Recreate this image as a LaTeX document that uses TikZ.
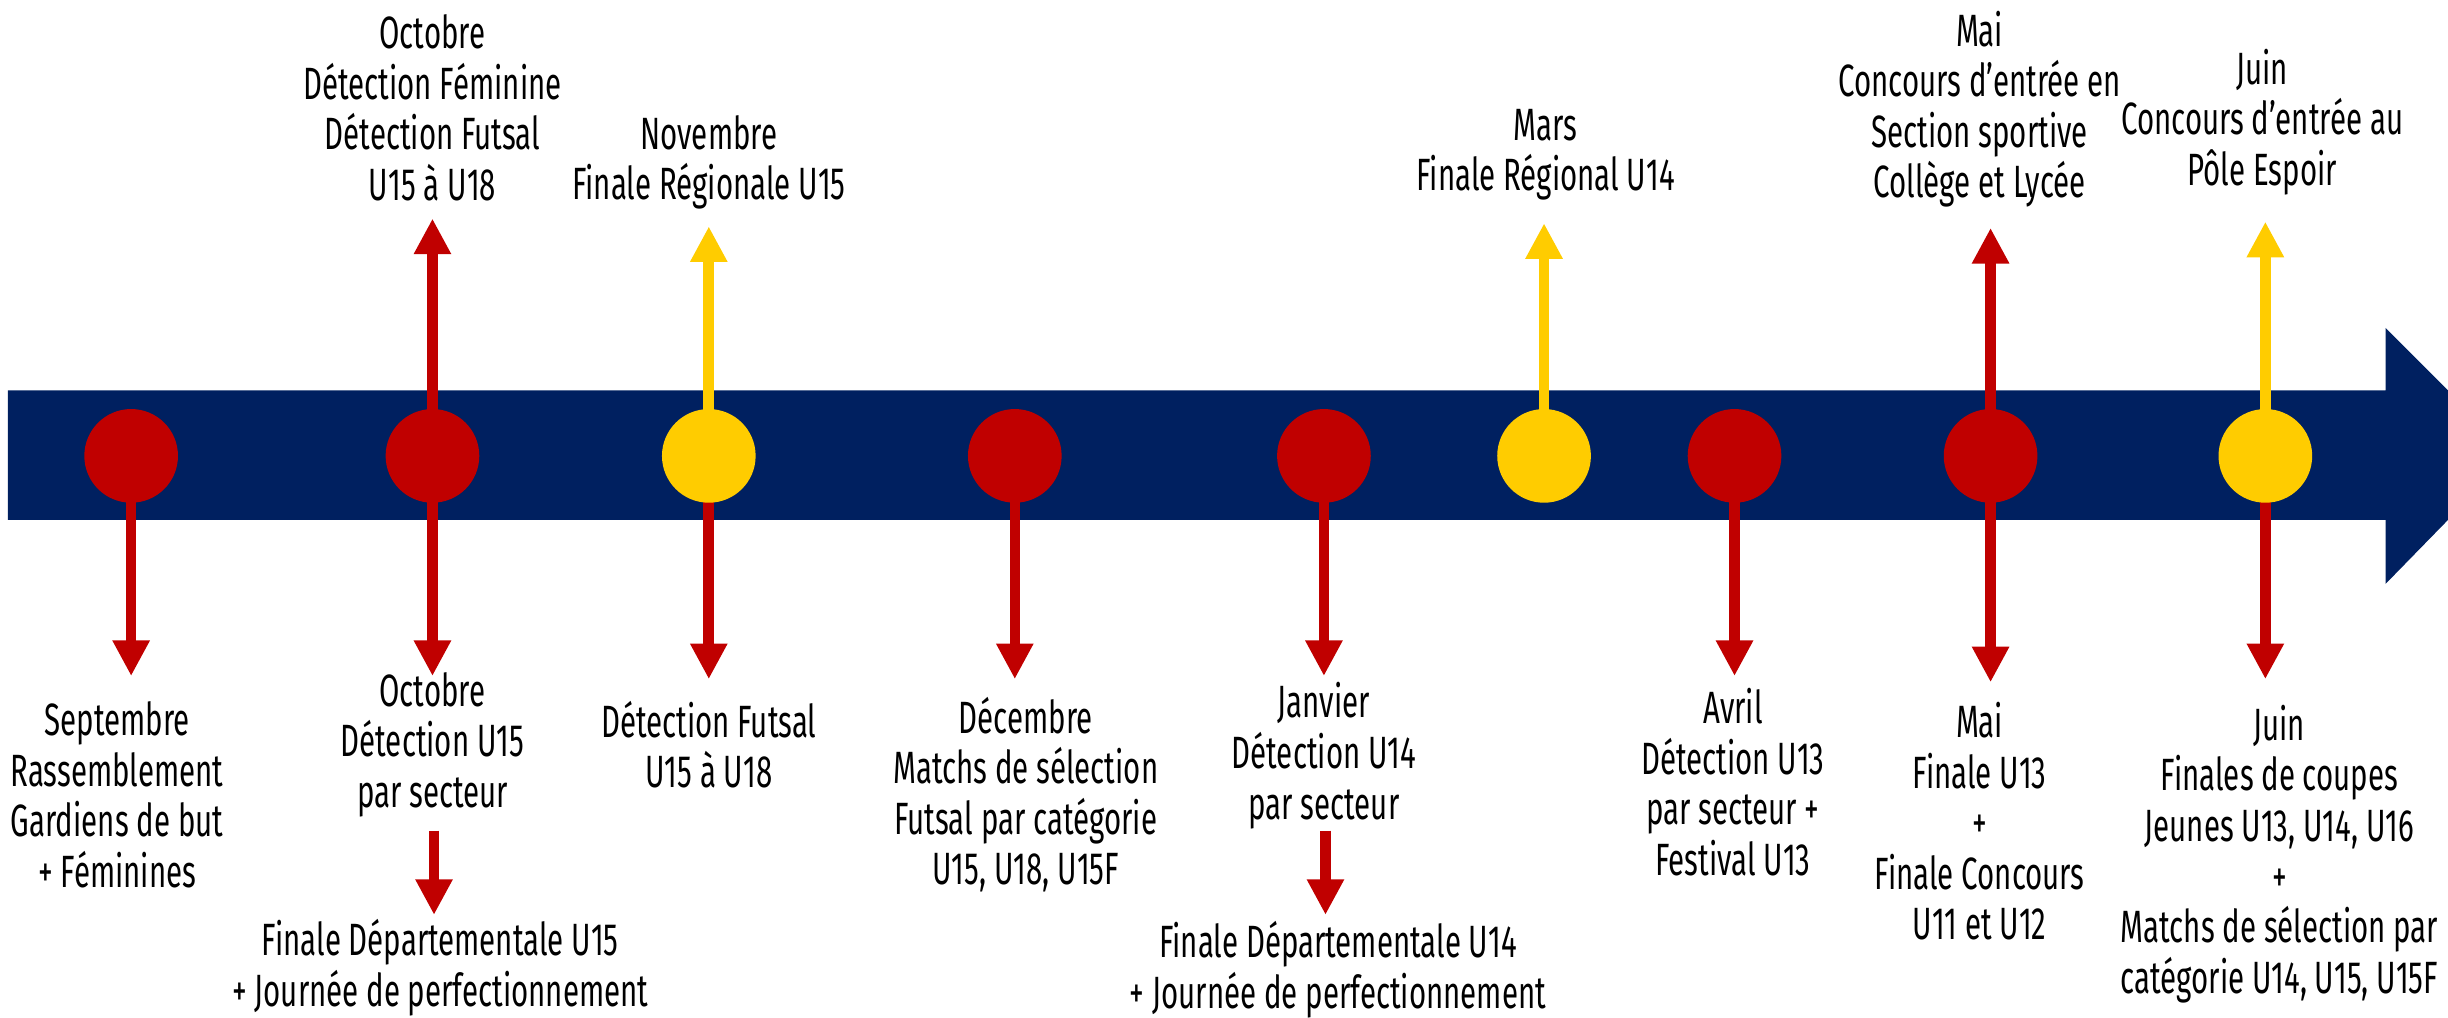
\documentclass[tikz,border=0pt]{standalone}
\usepackage{fontspec}
\setmainfont{Fira Sans}[FakeStretch=0.65]
\usetikzlibrary{arrows.meta,shapes.geometric}
\definecolor{navy}{RGB}{0,32,96}
\definecolor{cred}{RGB}{192,0,0}
\definecolor{cyel}{RGB}{255,204,0}
\tikzset{
  dot/.style={ellipse, fill=#1, draw=none, minimum width=30pt, minimum height=30pt, inner sep=0pt},
  lbl/.style={align=center, inner sep=0pt, font=\fontsize{14.5}{16.2}\selectfont},
  arr/.style={draw=#1, line width=3.4pt, -{Triangle[width=11.2pt,length=11.4pt]}},
}
\begin{document}
\begin{tikzpicture}[x=0.5pt,y=-0.5pt]
\useasboundingbox (0,0) rectangle (1568,652);
% timeline band (arrowhead cut by the picture's right edge)
\fill[navy] (5,250) -- (1528,250) -- (1528,210) -- (1568,250) -- (1568,333) -- (1528,374) -- (1528,333) -- (5,333) -- cycle;
% event dots (positions)
\coordinate (p1) at (84,292);
\coordinate (p2) at (277,292);
\coordinate (p3) at (454,292);
\coordinate (p4) at (650,292);
\coordinate (p5) at (848,292);
\coordinate (p6) at (989,292);
\coordinate (p7) at (1111,292);
\coordinate (p8) at (1275,292);
\coordinate (p9) at (1451,292);
% arrow targets
\coordinate (d1) at (84,433);
\coordinate (d2) at (277,433);
\coordinate (d3) at (454,435);
\coordinate (d4) at (650,435);
\coordinate (d5) at (848,433);
\coordinate (d7) at (1111,433);
\coordinate (d8) at (1275,437);
\coordinate (d9) at (1451,435);
\coordinate (u2) at (277,140);
\coordinate (u3) at (454,145);
\coordinate (u6) at (989,143);
\coordinate (u8) at (1275,146);
\coordinate (u9) at (1451,142);
\coordinate (s2a) at (278,532);
\coordinate (s2b) at (278,586);
\coordinate (s5a) at (849,532);
\coordinate (s5b) at (849,586);
% arrows
\draw[arr=cred] (p1) -- (d1);
\draw[arr=cred] (p2) -- (d2);
\draw[arr=cred] (p2) -- (u2);
\draw[arr=cred] (p3) -- (d3);
\draw[arr=cyel] (p3) -- (u3);
\draw[arr=cred] (p4) -- (d4);
\draw[arr=cred] (p5) -- (d5);
\draw[arr=cyel] (p6) -- (u6);
\draw[arr=cred] (p7) -- (d7);
\draw[arr=cred] (p8) -- (d8);
\draw[arr=cred] (p8) -- (u8);
\draw[arr=cred] (p9) -- (d9);
\draw[arr=cyel] (p9) -- (u9);
\draw[arr=cred] (s2a) -- (s2b);
\draw[arr=cred] (s5a) -- (s5b);
% dots
\node[dot=cred] (e1) at (p1) {};
\node[dot=cred] (e2) at (p2) {};
\node[dot=cyel] (e3) at (p3) {};
\node[dot=cred] (e4) at (p4) {};
\node[dot=cred] (e5) at (p5) {};
\node[dot=cyel] (e6) at (p6) {};
\node[dot=cred] (e7) at (p7) {};
\node[dot=cred] (e8) at (p8) {};
\node[dot=cyel] (e9) at (p9) {};
% labels above
\node[lbl] (t2) at (277,69) {Octobre\\Détection Féminine\\Détection Futsal\\U15 à U18};
\node[lbl] (t3) at (454,104) {Novembre\\Finale Régionale U15};
\node[lbl] (t6) at (990,99) {Mars\\Finale Régional U14};
\node[lbl] (t8) at (1268,70) {Mai\\Concours d’entrée en\\Section sportive\\Collège et Lycée};
\node[lbl] (t9) at (1449,78) {Juin\\Concours d’entrée au\\Pôle Espoir};
% labels below
\node[lbl] (b1) at (75,509) {Septembre\\Rassemblement\\Gardiens de but\\+ Féminines};
\node[lbl] (b2) at (277,477) {Octobre\\Détection U15\\par secteur};
\node[lbl] (b2s) at (282,620) {Finale Départementale U15\\+ Journée de perfectionnement};
\node[lbl] (b3) at (454,477) {Détection Futsal\\U15 à U18};
\node[lbl] (b4) at (657,509) {Décembre\\Matchs de sélection\\Futsal par catégorie\\U15, U18, U15F};
\node[lbl] (b5) at (848,484) {Janvier\\Détection U14\\par secteur};
\node[lbl] (b5s) at (857,621) {Finale Départementale U14\\+ Journée de perfectionnement};
\node[lbl] (b7) at (1110,501) {Avril\\Détection U13\\par secteur +\\Festival U13};
\node[lbl] (b8) at (1268,526) {Mai\\Finale U13\\+\\Finale Concours\\U11 et U12};
\node[lbl] (b9) at (1460,547) {Juin\\Finales de coupes\\Jeunes U13, U14, U16\\+\\Matchs de sélection par\\catégorie U14, U15, U15F};
\end{tikzpicture}
\end{document}
